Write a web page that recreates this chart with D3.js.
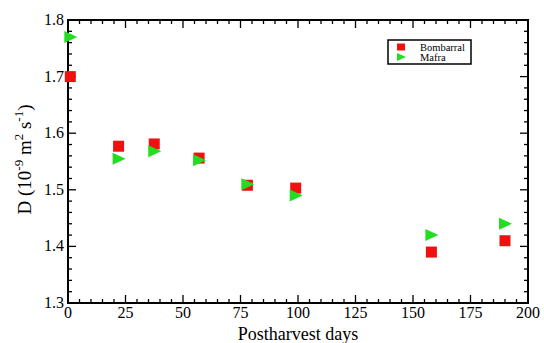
<!DOCTYPE html>
<html>
<head>
<meta charset="utf-8">
<script src="https://cdn.jsdelivr.net/npm/d3@7"></script>
<style>
  body { margin: 0; background: #fff; }
  text { font-family: "Liberation Serif", "DejaVu Serif", serif; }
</style>
</head>
<body>
<script>
const days = [1, 22, 37.5, 57, 78, 99, 158, 190];
const bombarral = [1.700, 1.577, 1.581, 1.556, 1.508, 1.503, 1.390, 1.410];
const mafra = [1.770, 1.555, 1.568, 1.552, 1.510, 1.490, 1.420, 1.440];
const xTicks = [0, 25, 50, 75, 100, 125, 150, 175, 200];
const yTicks = [1.3, 1.4, 1.5, 1.6, 1.7, 1.8];
const seriesNames = ["Bombarral", "Mafra"];

const width = 544, height = 343;
const m = { left: 68, right: 16, top: 20, bottom: 40 };
const x = d3.scaleLinear().domain([0, 200]).range([m.left, width - m.right]);
const y = d3.scaleLinear().domain([1.3, 1.8]).range([height - m.bottom, m.top]);

const svg = d3.select('body').append('svg')
    .attr('width', width)
    .attr('height', height);

const x0 = x.range()[0], x1 = x.range()[1], y0 = y.range()[0], y1 = y.range()[1];

// minor + major ticks, all inward, mirrored on top/right
const xMinor = d3.range(0, 201, 5);
const yMinor = d3.range(0, 26).map(i => 1.3 + i * 0.02);

const tk = svg.append('g').attr('stroke', '#000').attr('stroke-width', 1.3);
xMinor.forEach(v => {
    const major = v % 25 === 0;
    const len = major ? 8 : 4;
    tk.append('line').attr('x1', x(v)).attr('x2', x(v)).attr('y1', y0).attr('y2', y0 - len);
    tk.append('line').attr('x1', x(v)).attr('x2', x(v)).attr('y1', y1).attr('y2', y1 + len);
});
yMinor.forEach((v, i) => {
    const major = i % 5 === 0;
    const len = major ? 8 : 4;
    tk.append('line').attr('y1', y(v)).attr('y2', y(v)).attr('x1', x0).attr('x2', x0 + len);
    tk.append('line').attr('y1', y(v)).attr('y2', y(v)).attr('x1', x1).attr('x2', x1 - len);
});

svg.append('rect')
    .attr('x', x0).attr('y', y1)
    .attr('width', x1 - x0).attr('height', y0 - y1)
    .attr('fill', 'none').attr('stroke', '#000').attr('stroke-width', 2);

// tick labels
svg.append('g').selectAll('text').data(xTicks).enter().append('text')
    .attr('x', d => x(d)).attr('y', y0 + 15)
    .attr('text-anchor', 'middle')
    .style('font-size', '16px')
    .text(d => d);

svg.append('g').selectAll('text').data(yTicks).enter().append('text')
    .attr('x', x0 - 4).attr('y', d => y(d) + 5)
    .attr('text-anchor', 'end')
    .style('font-size', '16px')
    .text(d => d.toFixed(1));

// axis titles
svg.append('text')
    .attr('x', (x0 + x1) / 2).attr('y', height - 3)
    .attr('text-anchor', 'middle')
    .style('font-size', '18px')
    .text('Postharvest  days');

const yl = svg.append('text')
    .attr('transform', `translate(31,${(y0 + y1) / 2 - 2}) rotate(-90)`)
    .attr('text-anchor', 'middle')
    .style('font-size', '19px');
yl.append('tspan').text('D (10');
yl.append('tspan').attr('dy', -8).style('font-size', '13px').text('-9');
yl.append('tspan').attr('dy', 8).text(' m');
yl.append('tspan').attr('dy', -8).style('font-size', '13px').text('2');
yl.append('tspan').attr('dy', 8).text(' s');
yl.append('tspan').attr('dy', -8).style('font-size', '13px').text('-1');
yl.append('tspan').attr('dy', 8).text(')');

// markers
const red = '#f01010', green = '#22dd22';
const sq = 11;
svg.append('g').selectAll('rect').data(days).enter().append('rect')
    .attr('x', (d) => x(d) - sq / 2)
    .attr('y', (d, i) => y(bombarral[i]) - sq / 2)
    .attr('width', sq).attr('height', sq)
    .attr('fill', red);

const tri = (cx, cy) => `M${cx - 6},${cy - 6}L${cx + 7},${cy}L${cx - 6},${cy + 6}Z`;
svg.append('g').selectAll('path').data(days).enter().append('path')
    .attr('d', (d, i) => tri(x(d), y(mafra[i])))
    .attr('fill', green);

// legend
const lg = svg.append('g').attr('transform', 'translate(388,40)');
lg.append('rect').attr('width', 83).attr('height', 24)
    .attr('fill', '#fff').attr('stroke', '#000').attr('stroke-width', 1.5);
lg.append('rect').attr('x', 9).attr('y', 3.5).attr('width', 8).attr('height', 7).attr('fill', red);
lg.append('path').attr('d', 'M9,13L18,17L9,21Z').attr('fill', green);
lg.selectAll('text.lab').data(seriesNames).enter().append('text')
    .attr('x', 32).attr('y', (d, i) => 10.5 + i * 10)
    .style('font-size', '10.5px')
    .text(d => d);
</script>
</body>
</html>
